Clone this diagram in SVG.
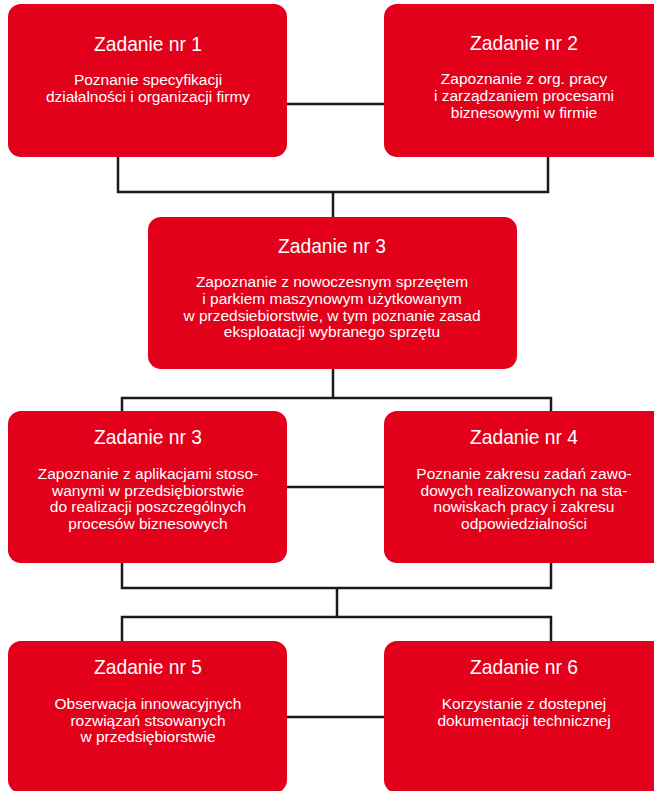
<svg xmlns="http://www.w3.org/2000/svg" width="654" height="791" viewBox="0 0 654 791">
<style>
.box{fill:#e2001a;}
.h{font-family:"Liberation Sans",Arial,sans-serif;font-size:21px;fill:#fff;text-anchor:middle;}
.b{font-family:"Liberation Sans",Arial,sans-serif;font-size:15.5px;fill:#fff;text-anchor:middle;}
.c{fill:none;stroke:#1a1a1a;stroke-width:2.5;}
</style>
<rect width="654" height="791" fill="#fff"/>
<g id="connectors">
<path class="c" d="M287 104H384"/>
<path class="c" d="M118 157V192H548V157"/>
<path class="c" d="M333 192V217"/>
<path class="c" d="M333 369V398"/>
<path class="c" d="M122 411V398H551V411"/>
<path class="c" d="M287 487H384"/>
<path class="c" d="M122 563V588H551V563"/>
<path class="c" d="M337 588V617"/>
<path class="c" d="M122 641V617H551V641"/>
<path class="c" d="M287 717H384"/>
</g>
<g id="node1">
<rect class="box" x="8" y="4" width="279" height="153" rx="13"/>
<text class="h" x="148" y="51" textLength="108" lengthAdjust="spacingAndGlyphs">Zadanie nr 1</text>
<text class="b" x="148" y="85">Poznanie specyfikacji</text>
<text class="b" x="148" y="102">działalności i organizacji firmy</text>
</g>
<g id="node2">
<rect class="box" x="384" y="4" width="282" height="153" rx="13"/>
<text class="h" x="524" y="50" textLength="108" lengthAdjust="spacingAndGlyphs">Zadanie nr 2</text>
<text class="b" x="524" y="84">Zapoznanie z org. pracy</text>
<text class="b" x="524" y="101">i zarządzaniem procesami</text>
<text class="b" x="524" y="118">biznesowymi w firmie</text>
</g>
<g id="node3">
<rect class="box" x="148" y="217" width="369" height="152" rx="13"/>
<text class="h" x="332" y="253" textLength="108" lengthAdjust="spacingAndGlyphs">Zadanie nr 3</text>
<text class="b" x="332" y="287">Zapoznanie z nowoczesnym sprzeętem</text>
<text class="b" x="332" y="304">i parkiem maszynowym użytkowanym</text>
<text class="b" x="332" y="321">w przedsiebiorstwie, w tym poznanie zasad</text>
<text class="b" x="332" y="337">eksploatacji wybranego sprzętu</text>
</g>
<g id="node3b">
<rect class="box" x="8" y="411" width="279" height="152" rx="13"/>
<text class="h" x="148" y="444" textLength="108" lengthAdjust="spacingAndGlyphs">Zadanie nr 3</text>
<text class="b" x="148" y="479">Zapoznanie z aplikacjami stoso-</text>
<text class="b" x="148" y="496">wanymi w przedsiębiorstwie</text>
<text class="b" x="148" y="512">do realizacji poszczególnych</text>
<text class="b" x="148" y="529">procesów biznesowych</text>
</g>
<g id="node4">
<rect class="box" x="384" y="411" width="282" height="152" rx="13"/>
<text class="h" x="524" y="444" textLength="108" lengthAdjust="spacingAndGlyphs">Zadanie nr 4</text>
<text class="b" x="524" y="479">Poznanie zakresu zadań zawo-</text>
<text class="b" x="524" y="496">dowych realizowanych na sta-</text>
<text class="b" x="524" y="512">nowiskach pracy i zakresu</text>
<text class="b" x="524" y="529">odpowiedzialności</text>
</g>
<g id="node5">
<rect class="box" x="8" y="641" width="279" height="152" rx="13"/>
<text class="h" x="148" y="674" textLength="108" lengthAdjust="spacingAndGlyphs">Zadanie nr 5</text>
<text class="b" x="148" y="709">Obserwacja innowacyjnych</text>
<text class="b" x="148" y="726">rozwiązań stsowanych</text>
<text class="b" x="148" y="742">w przedsiębiorstwie</text>
</g>
<g id="node6">
<rect class="box" x="384" y="641" width="282" height="152" rx="13"/>
<text class="h" x="524" y="674" textLength="108" lengthAdjust="spacingAndGlyphs">Zadanie nr 6</text>
<text class="b" x="524" y="709">Korzystanie z dostepnej</text>
<text class="b" x="524" y="726">dokumentacji technicznej</text>
</g>
</svg>
